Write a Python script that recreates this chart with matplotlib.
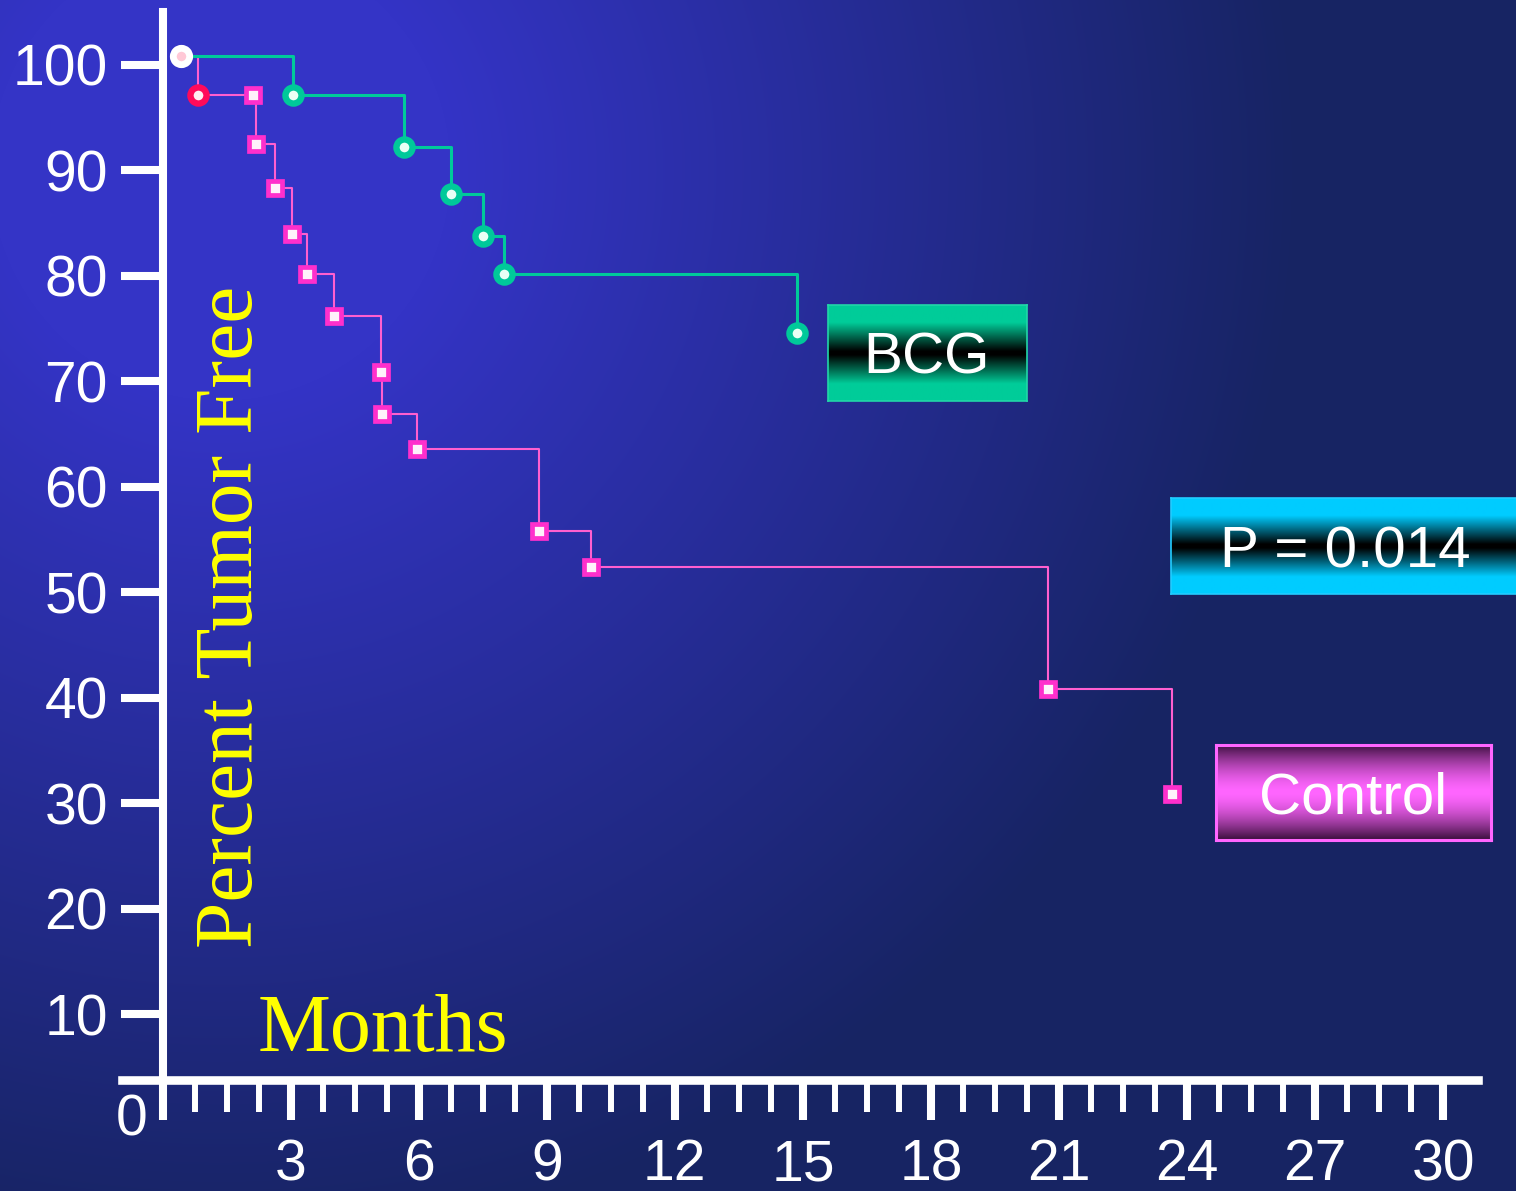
import numpy as np
import matplotlib
matplotlib.use("Agg")
import matplotlib.pyplot as plt

plt.rcParams["font.family"] = ["Liberation Sans", "DejaVu Sans"]

# ---- data -------------------------------------------------------------
months_ticks = list(range(0, 31, 3))
month_labels = [""] + [str(m) for m in months_ticks[1:]]
pct_ticks = list(range(10, 101, 10))
pct_labels = [str(p) for p in pct_ticks]

# Control arm: start point, first event, then the remaining steps
ctrl_months = [0.43, 0.82, 2.11, 2.18, 2.62, 3.04, 3.38, 4.01, 5.11, 5.14,
               5.97, 8.82, 10.03, 20.74, 23.65]
ctrl_pct = [100.8, 97.1, 97.1, 92.5, 88.3, 84.0, 80.2, 76.2, 70.9, 66.9,
            63.6, 55.8, 52.4, 40.8, 30.9]

# BCG arm
bcg_months = [0.43, 3.05, 5.65, 6.76, 7.50, 8.00, 14.86]
bcg_pct = [100.8, 97.1, 92.2, 87.8, 83.8, 80.2, 74.6]

p_value_text = "P = 0.014"

# ---- figure -----------------------------------------------------------
W, H = 1516, 1191
fig = plt.figure(figsize=(W / 100, H / 100), dpi=100)

# radial blue backdrop
bg = fig.add_axes([0, 0, 1, 1])
bg.axis("off")
yy, xx = np.mgrid[0:H, 0:W]
d = np.hypot(xx - 220, yy - 170)
t = np.clip((1080 - d) / 850, 0, 1)
light = np.array([0x34, 0x34, 0xC6]) / 255
dark = np.array([0x17, 0x24, 0x63]) / 255
bg.imshow(dark + (light - dark) * t[..., None], extent=[0, W, H, 0],
          aspect="auto", interpolation="bilinear")
bg.set_xlim(0, W)
bg.set_ylim(H, 0)

# main plotting axes (pixel scale: 42.68 px / month, 10.55 px / percent)
MX, X0 = 42.68, 162.7
MY, Y0 = 10.55, 1119.8
xlo, xhi, ylo, yhi = -1.0, 31.0, 0.0, 105.0
left_px = X0 + xlo * MX
right_px = X0 + xhi * MX
top_px = Y0 - yhi * MY
ax = fig.add_axes([left_px / W, (H - Y0) / H, (right_px - left_px) / W,
                   (Y0 - top_px) / H])
ax.set_xlim(xlo, xhi)
ax.set_ylim(ylo, yhi)
ax.patch.set_alpha(0)

base_y = 3.77
for s in ("top", "right"):
    ax.spines[s].set_visible(False)
ax.spines["left"].set_position(("data", 0))
ax.spines["left"].set_bounds(base_y, yhi)
ax.spines["left"].set_linewidth(5.8)
ax.spines["left"].set_color("white")
ax.spines["bottom"].set_position(("data", base_y))
ax.spines["bottom"].set_bounds(-0.95, 30.82)
ax.spines["bottom"].set_linewidth(6.2)
ax.spines["bottom"].set_color("white")

ax.set_xticks(months_ticks)
ax.set_xticklabels(month_labels)
ax.set_xticks(np.arange(0, 30.01, 0.75), minor=True)
ax.set_yticks(pct_ticks)
ax.set_yticklabels(pct_labels)
ax.tick_params(axis="x", which="major", direction="out", length=29,
               width=5.8, colors="white", labelsize=41, pad=13)
ax.tick_params(axis="x", which="minor", direction="out", length=23,
               width=4.3, colors="white")
ax.tick_params(axis="y", which="major", direction="out", length=30,
               width=5.8, colors="white", labelsize=41, pad=9.5)

# survival step curves
pink_line = "#ff5fcf"
green = "#00c99a"
ax.plot(ctrl_months, ctrl_pct, drawstyle="steps-post", color=pink_line,
        lw=1.5, clip_on=False, zorder=3)
ax.plot(bcg_months, bcg_pct, drawstyle="steps-post", color=green,
        lw=2.2, clip_on=False, zorder=4)

ax.plot(ctrl_months[2:], ctrl_pct[2:], ls="none", marker="s", ms=10.2,
        mew=3.4, mec="#ff2fcc", mfc="#fff2fb", clip_on=False, zorder=5)
ax.plot(bcg_months[1:], bcg_pct[1:], ls="none", marker="o", ms=11.6,
        mew=4.6, mec=green, mfc="#eafff5", clip_on=False, zorder=5)
ax.plot(ctrl_months[1], ctrl_pct[1], ls="none", marker="o", ms=11.6,
        mew=4.6, mec="#ff0a5a", mfc="#ffeef2", clip_on=False, zorder=6)
ax.plot(ctrl_months[0], ctrl_pct[0], ls="none", marker="o", ms=11.8,
        mew=4.9, mec="white", mfc="#ffc8d6", clip_on=False, zorder=6)

# corner zero
fig.text(132 / W, 1 - 1135 / H, "0", color="white", fontsize=41,
         ha="center", va="baseline")

# axis titles
serif = ["Liberation Serif", "DejaVu Serif"]
fig.text(232 / W, 1 - 617 / H, "Percent Tumor Free", rotation=90,
         family=serif, fontsize=60, color="#ffff00", ha="center",
         va="center")
fig.text(383 / W, 1 - 1051 / H, "Months", family=serif, fontsize=59,
         color="#ffff00", ha="center", va="baseline")


# gradient label boxes
def label_box(x0, y0, x1, y1, edge_rgb, mid_rgb, shape, border, bw,
              text, tx, ty, size):
    bax = fig.add_axes([x0 / W, 1 - y1 / H, (x1 - x0) / W, (y1 - y0) / H])
    n = 200
    f = np.abs(np.linspace(-1, 1, n))
    f = shape(f)
    e = np.array(edge_rgb) / 255
    m = np.array(mid_rgb) / 255
    grad = m + (e - m) * f[:, None]
    bax.imshow(grad[:, None, :], aspect="auto", extent=[0, 1, 0, 1],
               interpolation="bilinear")
    bax.set_xticks([])
    bax.set_yticks([])
    for sp in bax.spines.values():
        sp.set_color(border)
        sp.set_linewidth(bw)
    fig.text(tx / W, 1 - ty / H, text, color="white", fontsize=size,
             ha="center", va="baseline")


label_box(828, 305, 1027, 401, (0, 204, 153), (0, 0, 0),
          lambda f: np.clip((f - 0.04) / 0.6, 0, 1), "#22d6a8", 1.2,
          "BCG", 927, 374, 42)
label_box(1171, 498, 1530, 594, (0, 204, 255), (0, 0, 0),
          lambda f: np.clip((f - 0.04) / 0.6, 0, 1), "#22ccff", 1.2,
          p_value_text, 1345, 568, 42)
label_box(1216, 745, 1491, 840, (58, 14, 60), (255, 102, 255),
          lambda f: np.clip(f, 0, 1) ** 1.6, "#ff66ff", 2.2,
          "Control", 1353, 814, 42)

fig.savefig("out.png", dpi=100)
